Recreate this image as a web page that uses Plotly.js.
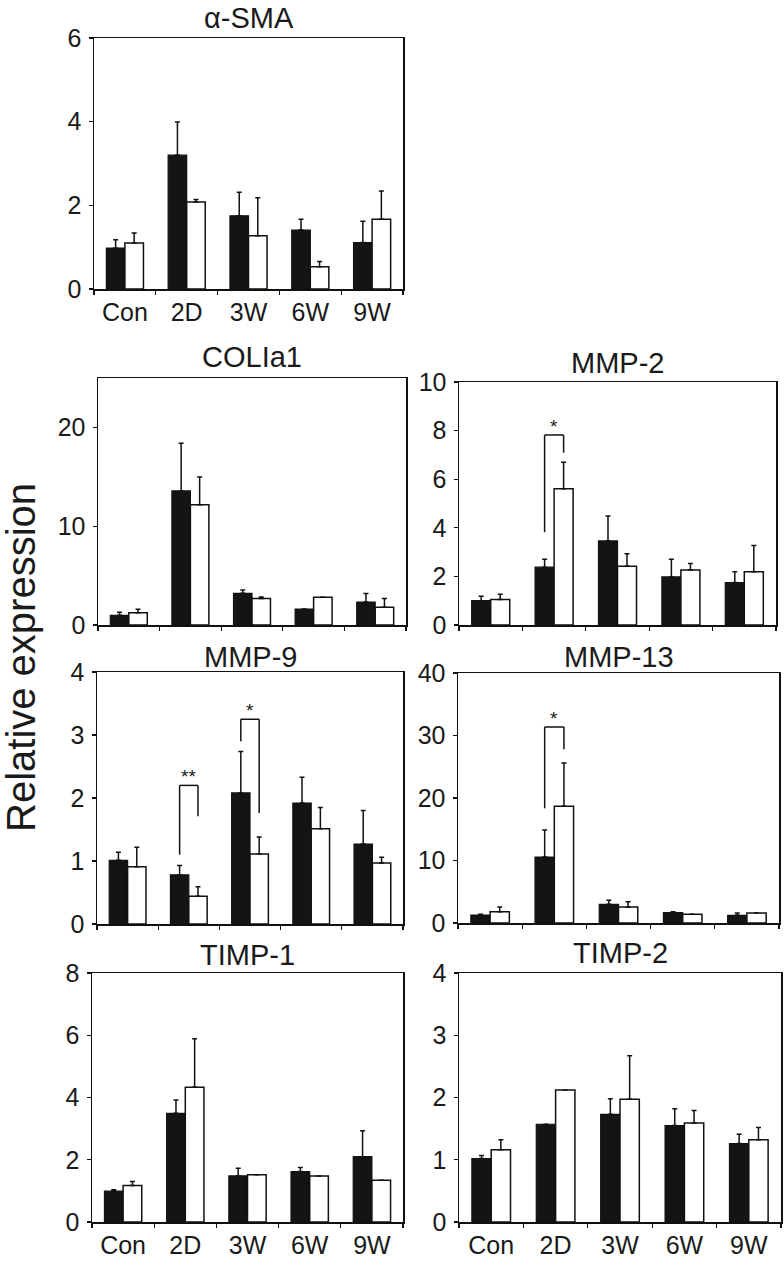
<!DOCTYPE html>
<html><head><meta charset="utf-8">
<script src="https://cdn.plot.ly/plotly-3.0.1.min.js"></script>
<style>body{margin:0;background:#fff}</style>
</head><body><div id="chart" style="width:784px;height:1275px"></div>
<script>
const categories = ['Con','2D','3W','6W','9W'];

const smaTitle = 'α-SMA';
const smaBlack = [0.98,3.20,1.75,1.41,1.11];
const smaBlackErr = [0.20,0.79,0.56,0.26,0.51];
const smaWhite = [1.10,2.08,1.27,0.53,1.67];
const smaWhiteErr = [0.24,0.06,0.91,0.13,0.67];
const smaTicks = [0,2,4,6];

const colTitle = 'COLIa1';
const colBlack = [0.98,13.57,3.21,1.62,2.33];
const colBlackErr = [0.31,4.83,0.34,null,0.85];
const colWhite = [1.25,12.18,2.67,2.81,1.79];
const colWhiteErr = [0.34,2.81,0.17,null,0.88];
const colTicks = [0,10,20];

const mmp2Title = 'MMP-2';
const mmp2Black = [1.00,2.38,3.46,1.98,1.75];
const mmp2BlackErr = [0.18,0.33,1.03,0.73,0.44];
const mmp2White = [1.05,5.61,2.42,2.26,2.19];
const mmp2WhiteErr = [0.22,1.09,0.51,0.27,1.08];
const mmp2Ticks = [0,2,4,6,8,10];

const mmp9Title = 'MMP-9';
const mmp9Black = [1.01,0.78,2.08,1.92,1.27];
const mmp9BlackErr = [0.13,0.15,0.66,0.41,0.53];
const mmp9White = [0.91,0.44,1.11,1.51,0.97];
const mmp9WhiteErr = [0.31,0.15,0.27,0.34,0.09];
const mmp9Ticks = [0,1,2,3,4];

const mmp13Title = 'MMP-13';
const mmp13Black = [1.28,10.56,2.99,1.65,1.23];
const mmp13BlackErr = [0.11,4.32,0.64,0.16,0.37];
const mmp13White = [1.81,18.67,2.56,1.39,1.60];
const mmp13WhiteErr = [0.75,6.93,0.85,null,null];
const mmp13Ticks = [0,10,20,30,40];

const timp1Title = 'TIMP-1';
const timp1Black = [0.99,3.49,1.48,1.62,2.10];
const timp1BlackErr = [0.05,0.43,0.25,0.13,0.83];
const timp1White = [1.17,4.33,1.52,1.48,1.34];
const timp1WhiteErr = [0.13,1.56,null,null,null];
const timp1Ticks = [0,2,4,6,8];

const timp2Title = 'TIMP-2';
const timp2Black = [1.02,1.57,1.73,1.55,1.26];
const timp2BlackErr = [0.05,null,0.25,0.27,0.15];
const timp2White = [1.16,2.12,1.97,1.59,1.32];
const timp2WhiteErr = [0.16,null,0.70,0.20,0.20];
const timp2Ticks = [0,1,2,3,4];

// significance brackets: [category, left start, top, right end, label]
const mmp2Sig = [[1, 3.82, 7.82, 7.09, '*']];
const mmp9Sig = [[1, 1.10, 2.20, 1.71, '**'], [2, 2.90, 3.25, 1.76, '*']];
const mmp13Sig = [[1, 18.35, 31.36, 27.8, '*']];

const yAxisTitle = 'Relative expression';

// panel layout (pixel boxes: left, right, top, bottom; title cap-bottom)
const W = 784, H = 1275;
const panels = [
  {title: smaTitle, b: smaBlack, be: smaBlackErr, w: smaWhite, we: smaWhiteErr, ticks: smaTicks, range: [0,6], box: [94,403,38,289], tb: 28, labels: true, sig: []},
  {title: colTitle, b: colBlack, be: colBlackErr, w: colWhite, we: colWhiteErr, ticks: colTicks, range: [0,25], box: [98,406,378,625], tb: 367, labels: false, sig: []},
  {title: mmp2Title, b: mmp2Black, be: mmp2BlackErr, w: mmp2White, we: mmp2WhiteErr, ticks: mmp2Ticks, range: [0,10], box: [459,776,382,625], tb: 373, labels: false, sig: mmp2Sig},
  {title: mmp9Title, b: mmp9Black, be: mmp9BlackErr, w: mmp9White, we: mmp9WhiteErr, ticks: mmp9Ticks, range: [0,4], box: [97,403,672,924], tb: 667, labels: false, sig: mmp9Sig},
  {title: mmp13Title, b: mmp13Black, be: mmp13BlackErr, w: mmp13White, we: mmp13WhiteErr, ticks: mmp13Ticks, range: [0,40], box: [458,779,673,923], tb: 667, labels: false, sig: mmp13Sig},
  {title: timp1Title, b: timp1Black, be: timp1BlackErr, w: timp1White, we: timp1WhiteErr, ticks: timp1Ticks, range: [0,8], box: [92,403,973,1222], tb: 965, labels: true, sig: []},
  {title: timp2Title, b: timp2Black, be: timp2BlackErr, w: timp2White, we: timp2WhiteErr, ticks: timp2Ticks, range: [0,4], box: [459,781,973,1222], tb: 963, labels: true, sig: []}
];

const FONT = 'Liberation Sans, Arial, Helvetica, sans-serif';
const TICK = 25, TITLE = 29;
const traces = [];
const layout = {
  width: W, height: H, margin: {l:0, r:0, t:0, b:0},
  paper_bgcolor: '#fff', plot_bgcolor: '#fff',
  showlegend: false, barmode: 'group', bargap: 0.4, bargroupgap: 0,
  font: {family: FONT, color: '#1a1a1a', size: TICK},
  shapes: [], annotations: []
};

function zeros(n){ return new Array(n).fill(0); }

panels.forEach((p, i) => {
  const n = i + 1;
  const xa = 'x' + (n === 1 ? '' : n), ya = 'y' + (n === 1 ? '' : n);
  const errStyle = (arr) => ({type: 'data', symmetric: false, array: arr, arrayminus: zeros(arr.length), color: '#111', thickness: 1.5, width: 2.5});
  traces.push({type: 'bar', x: categories, y: p.b, xaxis: xa, yaxis: ya,
    marker: {color: '#141414', line: {color: '#111', width: 1.2}}, error_y: errStyle(p.be), hoverinfo: 'skip'});
  traces.push({type: 'bar', x: categories, y: p.w, xaxis: xa, yaxis: ya,
    marker: {color: '#ffffff', line: {color: '#111', width: 1.5}}, error_y: errStyle(p.we), hoverinfo: 'skip'});
  const [x0, x1, y0, y1] = p.box;
  const xKey = 'xaxis' + (n === 1 ? '' : n), yKey = 'yaxis' + (n === 1 ? '' : n);
  layout[xKey] = {
    domain: [x0 / W, x1 / W], anchor: ya, type: 'category', range: [-0.5, 4.5],
    showline: true, mirror: true, linecolor: '#111', linewidth: 1.5,
    ticks: 'outside', tickson: 'boundaries', ticklen: 4, tickwidth: 1.2, tickcolor: '#111',
    showticklabels: p.labels, tickfont: {size: TICK, family: FONT, color: '#1a1a1a'},
    showgrid: false, zeroline: false, fixedrange: true
  };
  layout[yKey] = {
    domain: [1 - y1 / H, 1 - y0 / H], anchor: xa, range: p.range,
    tickvals: p.ticks, ticks: 'outside', ticklen: 4, tickwidth: 1.2, tickcolor: '#111',
    ticklabelstandoff: 2,
    showline: true, mirror: true, linecolor: '#111', linewidth: 1.5,
    tickfont: {size: TICK, family: FONT, color: '#1a1a1a'},
    showgrid: false, zeroline: false, fixedrange: true
  };
  layout.annotations.push({text: p.title, xref: 'paper', yref: 'paper',
    x: (x0 + x1) / 2 / W, y: 1 - (p.tb + 8) / H, xanchor: 'center', yanchor: 'bottom',
    showarrow: false, font: {size: TITLE, family: FONT, color: '#1a1a1a'}});
  p.sig.forEach(s => {
    const [c, ls, top, re, lab] = s;
    const xl = c - 0.15, xr = c + 0.15;
    const line = {color: '#111', width: 1.5};
    layout.shapes.push({type: 'line', xref: xa, yref: ya, x0: xl, x1: xl, y0: ls, y1: top, line});
    layout.shapes.push({type: 'line', xref: xa, yref: ya, x0: xl, x1: xr, y0: top, y1: top, line});
    layout.shapes.push({type: 'line', xref: xa, yref: ya, x0: xr, x1: xr, y0: top, y1: re, line});
    layout.annotations.push({text: lab, xref: xa, yref: ya, x: c, y: top, xanchor: 'center', yanchor: 'bottom',
      yshift: -4, showarrow: false, font: {size: 19, family: FONT, color: '#1a1a1a'}});
  });
});

layout.annotations.push({text: yAxisTitle, xref: 'paper', yref: 'paper', x: 21 / W, y: 1 - 658 / H,
  xanchor: 'center', yanchor: 'middle', textangle: -90, showarrow: false,
  font: {size: 40, family: FONT, color: '#1a1a1a'}});

Plotly.newPlot('chart', traces, layout, {staticPlot: true, displayModeBar: false});
</script></body></html>
